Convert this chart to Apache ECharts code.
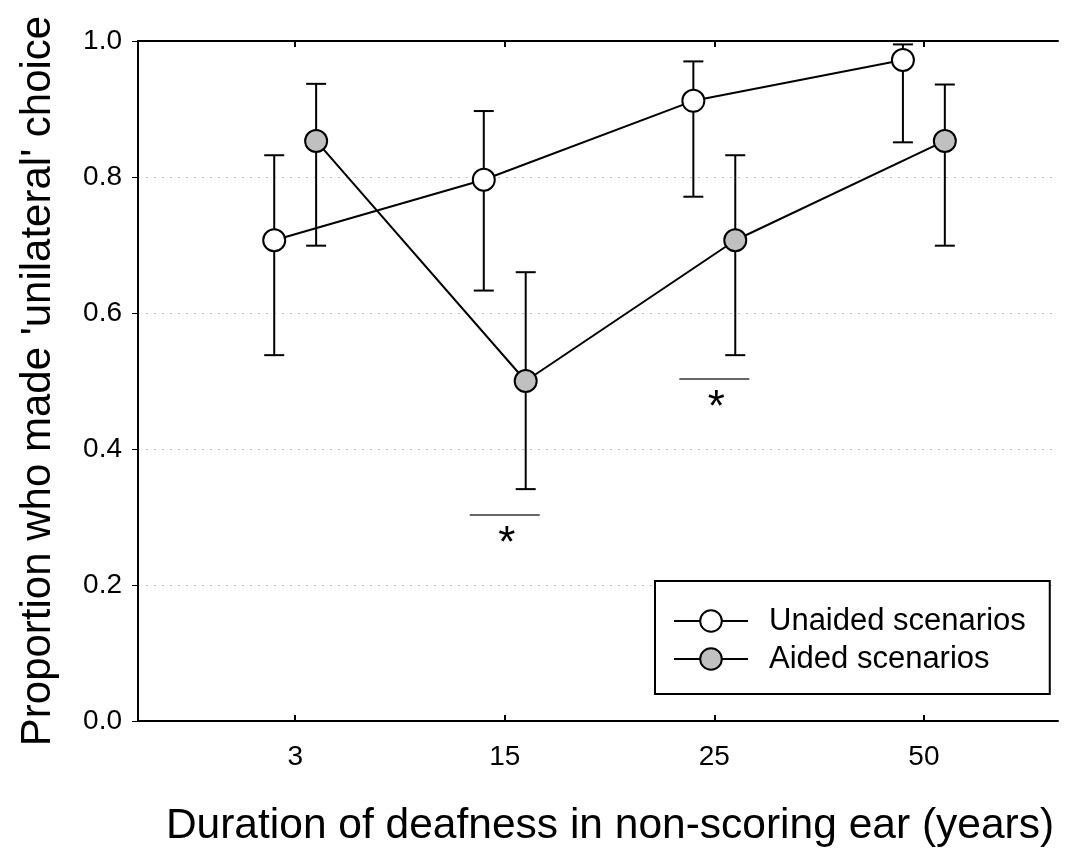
<!DOCTYPE html>
<html lang="en">
<head>
    <meta charset="UTF-8">
    <title>Unilateral choice</title>
    <script src="https://cdn.jsdelivr.net/npm/echarts@6/dist/echarts.min.js"></script>
    <style>
body{
    margin:0;
    background:#fff;
}
#main{
    width:1083px;
    height:850px;
}
    </style>
</head>
<body>
<div id="main"></div>
<script type="text/javascript">
    var categories = ['3', '15', '25', '50'];
    var unaided = [0.707, 0.796, 0.912, 0.972];
    var unaidedLow = [0.538, 0.633, 0.771, 0.851];
    var unaidedHigh = [0.832, 0.897, 0.970, 0.995];
    var aided = [0.853, 0.500, 0.707, 0.853];
    var aidedLow = [0.699, 0.341, 0.538, 0.699];
    var aidedHigh = [0.937, 0.660, 0.832, 0.936];
    // significance marks: category index and height of the bar
    var sigCategory = [1, 2];
    var sigLevel = [0.303, 0.503];

    var font = "'Liberation Sans', Arial, sans-serif";
    var shift = 0.1; // unaided left, aided right of the category

    function pts(vals, d) {
        return vals.map(function (v, i) { return [i + d, v]; });
    }
    function bars(lo, hi, d) {
        return lo.map(function (v, i) { return [i + d, v, hi[i]]; });
    }

    function errorBar(params, api) {
        var x = api.value(0);
        var lo = api.coord([x, api.value(1)]);
        var hi = api.coord([x, api.value(2)]);
        var cap = 10;
        var st = {stroke: '#000', lineWidth: 2};
        return {
            type: 'group',
            children: [
                {type: 'line', shape: {x1: lo[0], y1: lo[1], x2: hi[0], y2: hi[1]}, style: st},
                {type: 'line', shape: {x1: lo[0] - cap, y1: lo[1], x2: lo[0] + cap, y2: lo[1]}, style: st},
                {type: 'line', shape: {x1: hi[0] - cap, y1: hi[1], x2: hi[0] + cap, y2: hi[1]}, style: st}
            ]
        };
    }

    var chart = echarts.init(document.getElementById('main'));
    chart.setOption({
        animation: false,
        grid: {left: 138, right: 25, top: 41, bottom: 129, outerBoundsMode: 'none'},
        legend: {
            orient: 'vertical',
            left: 655,
            top: 581,
            padding: [24, 24, 19, 18],
            itemGap: 6,
            itemWidth: 74,
            itemHeight: 27,
            backgroundColor: '#fff',
            borderColor: '#000',
            borderWidth: 2,
            textStyle: {fontFamily: font, fontSize: 31, lineHeight: 32, color: '#000', padding: [0, 0, 0, 16]},
            data: ['Unaided scenarios', 'Aided scenarios']
        },
        xAxis: [{
            type: 'value',
            min: -0.75,
            max: 3.64,
            name: 'Duration of deafness in non-scoring ear (years)',
            nameLocation: 'middle',
            nameGap: 84,
            nameTextStyle: {fontFamily: font, fontSize: 42.5, color: '#000', padding: [0, 0, 0, 24]},
            axisLine: {show: true, onZero: false, lineStyle: {color: '#000', width: 2}},
            axisTick: {show: true, inside: true, length: 6, customValues: [0, 1, 2, 3], lineStyle: {color: '#000', width: 2}},
            axisLabel: {
                customValues: [0, 1, 2, 3],
                formatter: function (v) { return categories[Math.round(v)]; },
                fontFamily: font, fontSize: 28, color: '#000', margin: 22
            },
            splitLine: {show: false}
        }, {
            type: 'value',
            position: 'top',
            min: -0.75,
            max: 3.64,
            axisLine: {show: true, onZero: false, lineStyle: {color: '#000', width: 2}},
            axisTick: {show: true, inside: true, length: 6, customValues: [0, 1, 2, 3], lineStyle: {color: '#000', width: 2}},
            axisLabel: {show: false},
            splitLine: {show: false}
        }],
        yAxis: {
            type: 'value',
            min: 0,
            max: 1,
            interval: 0.2,
            name: "Proportion who made 'unilateral' choice",
            nameLocation: 'middle',
            nameGap: 79,
            nameTextStyle: {fontFamily: font, fontSize: 42, color: '#000'},
            axisLine: {show: true, onZero: false, lineStyle: {color: '#000', width: 2}},
            axisTick: {show: true, length: 6, lineStyle: {color: '#000', width: 1}},
            axisLabel: {
                formatter: function (v) { return v.toFixed(1); },
                fontFamily: font, fontSize: 28, color: '#000', margin: 16
            },
            splitLine: {show: true, lineStyle: {color: '#c4c4c4', type: [2, 6], width: 1}}
        },
        series: [{
            type: 'custom',
            name: 'err-u',
            renderItem: errorBar,
            data: bars(unaidedLow, unaidedHigh, -shift),
            z: 1
        }, {
            type: 'custom',
            name: 'err-a',
            renderItem: errorBar,
            data: bars(aidedLow, aidedHigh, shift),
            z: 1
        }, {
            type: 'custom',
            name: 'sig',
            renderItem: function (params, api) {
                var c = api.value(0);
                var a = api.coord([c - 0.167, api.value(1)]);
                var b = api.coord([c + 0.167, api.value(1)]);
                return {
                    type: 'group',
                    children: [
                        {type: 'line', shape: {x1: a[0], y1: a[1], x2: b[0], y2: b[1]}, style: {stroke: '#333', lineWidth: 1.5}},
                        {type: 'text', x: (a[0] + b[0]) / 2 + 2, y: a[1] + 8, style: {text: '*', fontFamily: font, fontSize: 44, fill: '#000', align: 'center', verticalAlign: 'top'}}
                    ]
                };
            },
            data: sigCategory.map(function (c, i) { return [c, sigLevel[i]]; }),
            z: 1
        }, {
            name: 'Unaided scenarios',
            type: 'line',
            data: pts(unaided, -shift),
            symbol: 'circle',
            symbolSize: 22,
            lineStyle: {color: '#000', width: 2},
            itemStyle: {color: '#fff', borderColor: '#000', borderWidth: 2},
            z: 3
        }, {
            name: 'Aided scenarios',
            type: 'line',
            data: pts(aided, shift),
            symbol: 'circle',
            symbolSize: 22,
            lineStyle: {color: '#000', width: 2},
            itemStyle: {color: '#c0c0c0', borderColor: '#000', borderWidth: 2},
            z: 3
        }]
    });
</script>
</body>
</html>
